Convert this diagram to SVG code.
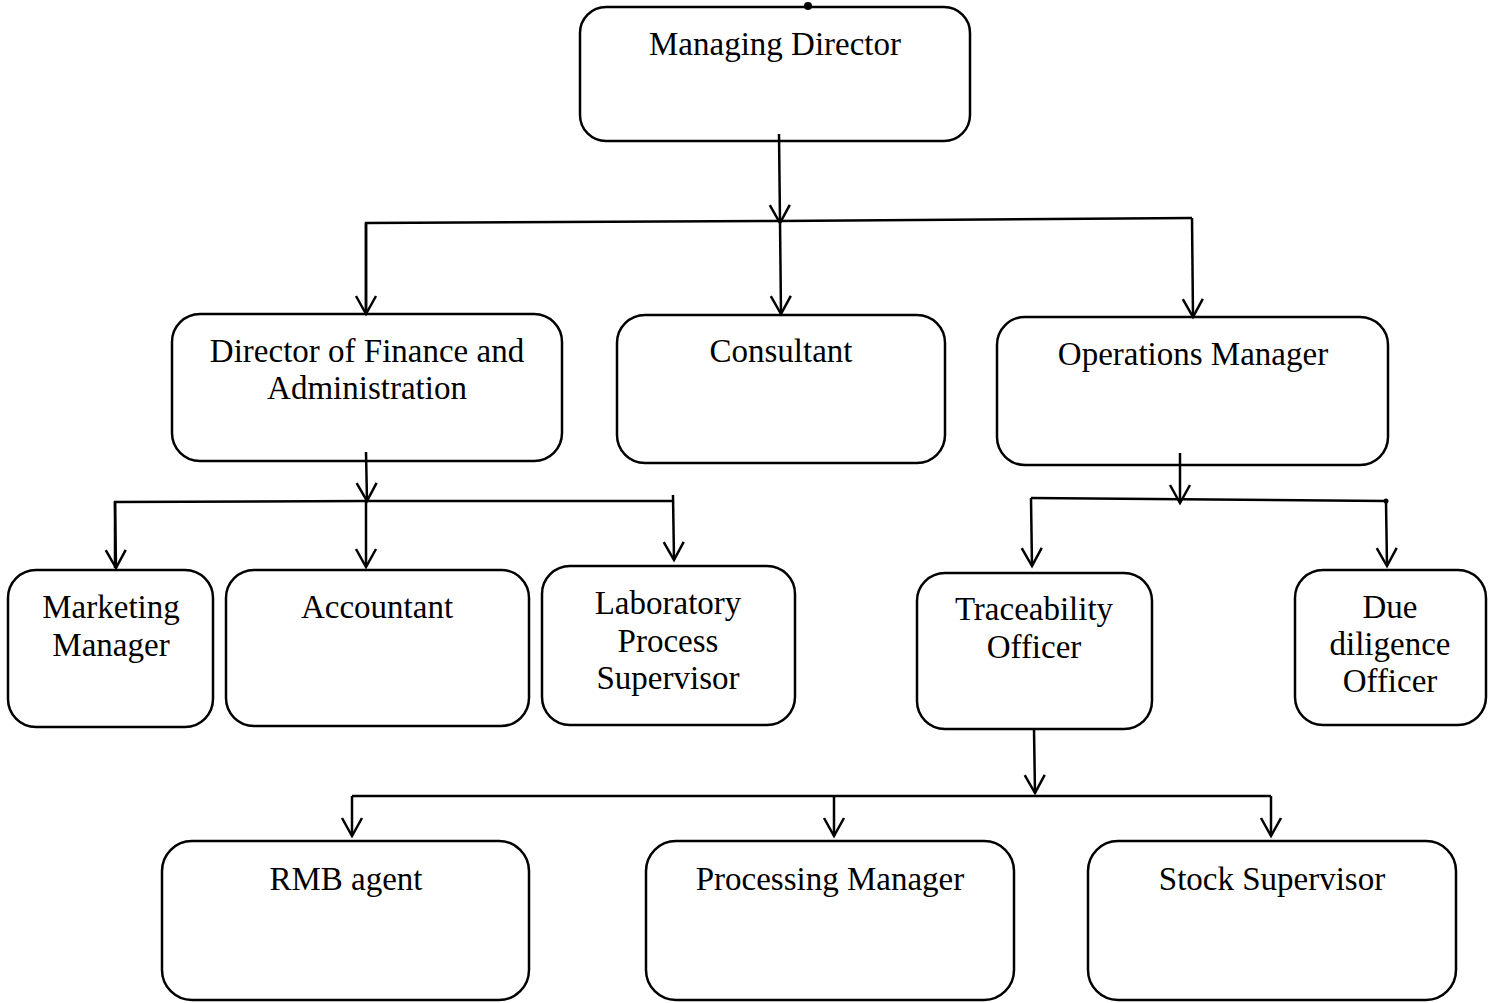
<svg xmlns="http://www.w3.org/2000/svg" width="1497" height="1003" viewBox="0 0 1497 1003">
<defs>
<marker id="arr" markerWidth="24" markerHeight="24" refX="21" refY="12" orient="auto" markerUnits="userSpaceOnUse" viewBox="0 0 24 24">
<path d="M3 2 L21 12 L3 22" fill="none" stroke="#000" stroke-width="2.5"/>
</marker>
<style>
.box{fill:#fff;stroke:#000;stroke-width:2.5}
.t{font-family:"Liberation Serif","Times New Roman",serif;font-size:33px;fill:#000;text-anchor:middle}
.c{fill:none;stroke:#000;stroke-width:2.5}
.a{fill:none;stroke:#000;stroke-width:2.5;marker-end:url(#arr)}
</style>
</defs>
<rect width="1497" height="1003" fill="#fff"/>
<g id="managing-director"><rect class="box" x="580" y="7" width="390" height="134" rx="26"/><text class="t" x="775" y="55">Managing Director</text></g>
<g id="director-finance"><rect class="box" x="172" y="314" width="390" height="147" rx="28"/><text class="t" x="367" y="362">Director of Finance and</text><text class="t" x="367" y="399">Administration</text></g>
<g id="consultant"><rect class="box" x="617" y="315" width="328" height="148" rx="28"/><text class="t" x="781" y="362">Consultant</text></g>
<g id="operations-manager"><rect class="box" x="997" y="317" width="391" height="148" rx="28"/><text class="t" x="1193" y="365">Operations Manager</text></g>
<g id="marketing-manager"><rect class="box" x="8" y="570" width="205" height="157" rx="28"/><text class="t" x="111" y="618">Marketing</text><text class="t" x="111" y="656">Manager</text></g>
<g id="accountant"><rect class="box" x="226" y="570" width="303" height="156" rx="28"/><text class="t" x="377" y="618">Accountant</text></g>
<g id="lab-supervisor"><rect class="box" x="542" y="566" width="253" height="159" rx="28"/><text class="t" x="668" y="614">Laboratory</text><text class="t" x="668" y="652">Process</text><text class="t" x="668" y="689">Supervisor</text></g>
<g id="traceability-officer"><rect class="box" x="917" y="573" width="235" height="156" rx="28"/><text class="t" x="1034" y="620">Traceability</text><text class="t" x="1034" y="658">Officer</text></g>
<g id="due-diligence-officer"><rect class="box" x="1295" y="570" width="191" height="155" rx="28"/><text class="t" x="1390" y="618">Due</text><text class="t" x="1390" y="655">diligence</text><text class="t" x="1390" y="692">Officer</text></g>
<g id="rmb-agent"><rect class="box" x="162" y="841" width="367" height="159" rx="30"/><text class="t" x="346" y="890">RMB agent</text></g>
<g id="processing-manager"><rect class="box" x="646" y="841" width="368" height="159" rx="30"/><text class="t" x="830" y="890">Processing Manager</text></g>
<g id="stock-supervisor"><rect class="box" x="1088" y="841" width="368" height="159" rx="30"/><text class="t" x="1272" y="890">Stock Supervisor</text></g>
<g id="connectors">
<circle cx="808" cy="6" r="4" fill="#000"/>
<line class="a" x1="779" y1="134" x2="780" y2="223"/>
<polyline class="c" points="366,314 366,223 780,221 1192,218"/>
<line class="a" x1="366" y1="223" x2="366" y2="314"/>
<line class="a" x1="780" y1="221" x2="781" y2="314"/>
<line class="a" x1="1192" y1="218" x2="1193" y2="317"/>
<line class="a" x1="366" y1="452" x2="367" y2="501"/>
<polyline class="c" points="115,568 115,502 366,501 673,501"/>
<line class="a" x1="115" y1="502" x2="116" y2="568"/>
<line class="a" x1="366" y1="501" x2="366" y2="567"/>
<line class="a" x1="673" y1="495" x2="674" y2="560"/>
<line class="a" x1="1180" y1="453" x2="1180" y2="503"/>
<polyline class="c" points="1031,498 1386,501"/>
<line class="a" x1="1031" y1="498" x2="1032" y2="566"/>
<line class="a" x1="1386" y1="501" x2="1387" y2="566"/>
<circle cx="1386" cy="501" r="2.5" fill="#000"/>
<line class="a" x1="1034" y1="729" x2="1035" y2="793"/>
<polyline class="c" points="352,796 1271,796"/>
<line class="a" x1="352" y1="796" x2="352" y2="836"/>
<line class="a" x1="834" y1="796" x2="834" y2="836"/>
<line class="a" x1="1271" y1="796" x2="1271" y2="836"/>
</g>
</svg>
